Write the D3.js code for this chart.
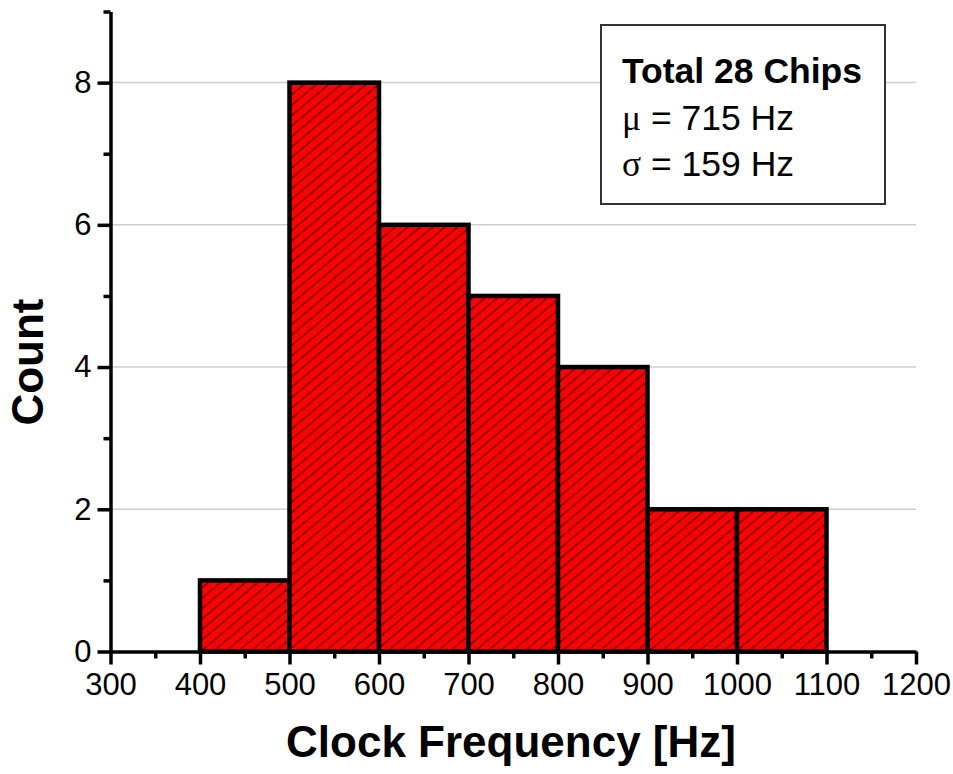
<!DOCTYPE html>
<html>
<head>
<meta charset="utf-8">
<script src="https://cdn.jsdelivr.net/npm/d3@7"></script>
<style>
  html, body { margin: 0; padding: 0; background: #fff; }
  svg { display: block; font-family: "Liberation Sans", Arial, sans-serif; }
</style>
</head>
<body>
<svg id="chart" width="953" height="774"></svg>
<script>
// Histogram of measured clock frequencies
const binStarts = [400, 500, 600, 700, 800, 900, 1000];
const binWidth = 100;
const counts = [1, 8, 6, 5, 4, 2, 2];

const xMajorTicks = [300, 400, 500, 600, 700, 800, 900, 1000, 1100, 1200];
const xMinorTicks = [350, 450, 550, 650, 750, 850, 950, 1050, 1150];
const yMajorTicks = [0, 2, 4, 6, 8];
const yMinorTicks = [1, 3, 5, 7, 9];
const gridValues = [2, 4, 6, 8];

const statLines = [
  { sym: null, text: "Total 28 Chips", bold: true },
  { sym: "μ", text: " = 715 Hz", bold: false },
  { sym: "σ", text: " = 159 Hz", bold: false }
];

const xTitle = "Clock Frequency [Hz]";
const yTitle = "Count";

const svg = d3.select("#chart");

const x = d3.scaleLinear().domain([300, 1200]).range([110.5, 916]);
const y = d3.scaleLinear().domain([0, 9]).range([651.5, 11.5]);

// Diagonal hatch fill for the bars
const defs = svg.append("defs");
const pat = defs.append("pattern")
  .attr("id", "hatch")
  .attr("patternUnits", "userSpaceOnUse")
  .attr("width", 20)
  .attr("height", 8)
  .attr("patternTransform", "rotate(-40)");
pat.append("rect").attr("width", 20).attr("height", 8).attr("fill", "#ff0000");
pat.append("line")
  .attr("x1", 0).attr("x2", 20)
  .attr("y1", 4).attr("y2", 4)
  .attr("stroke", "#000").attr("stroke-width", 1.1)
  .attr("stroke-dasharray", "1.5,0.5");

// Horizontal grid lines
svg.append("g").selectAll("line")
  .data(gridValues)
  .join("line")
  .attr("x1", x(300)).attr("x2", x(1200))
  .attr("y1", d => y(d)).attr("y2", d => y(d))
  .attr("stroke", "#cfcfcf")
  .attr("stroke-width", 1.5);

// Bars
svg.append("g").selectAll("rect")
  .data(binStarts.map((s, i) => ({ s, c: counts[i] })))
  .join("rect")
  .attr("x", d => x(d.s))
  .attr("y", d => y(d.c))
  .attr("width", d => x(d.s + binWidth) - x(d.s))
  .attr("height", d => y(0) - y(d.c))
  .attr("fill", "url(#hatch)")
  .attr("stroke", "#000")
  .attr("stroke-width", 4.5)
  .attr("stroke-linejoin", "miter");

// Axes
function styleAxis(g) {
  g.selectAll("path.domain").attr("stroke", "#000").attr("stroke-width", 3.5);
  g.selectAll(".tick line").attr("stroke", "#000").attr("stroke-width", 3.5);
  g.selectAll(".tick text")
    .attr("fill", "#000")
    .style("font-family", "'Liberation Sans', Arial, sans-serif")
    .style("font-size", "31px");
}

const xAxis = svg.append("g")
  .attr("transform", `translate(0,${y(0)})`)
  .call(d3.axisBottom(x).tickValues(xMajorTicks).tickSize(13).tickSizeOuter(0).tickPadding(8).tickFormat(d3.format("d")));
styleAxis(xAxis);
xAxis.selectAll(".tick text").attr("dy", "0.71em");

svg.append("g")
  .attr("transform", `translate(0,${y(0)})`)
  .call(d3.axisBottom(x).tickValues(xMinorTicks).tickSize(7).tickSizeOuter(0).tickFormat(""))
  .call(g => g.select("path.domain").remove())
  .call(styleAxis);

const yAxis = svg.append("g")
  .attr("transform", `translate(${x(300)},0)`)
  .call(d3.axisLeft(y).tickValues(yMajorTicks).tickSize(13).tickSizeOuter(0).tickPadding(6).tickFormat(d3.format("d")));
styleAxis(yAxis);

svg.append("g")
  .attr("transform", `translate(${x(300)},0)`)
  .call(d3.axisLeft(y).tickValues(yMinorTicks).tickSize(7).tickSizeOuter(0).tickFormat(""))
  .call(g => g.select("path.domain").remove())
  .call(styleAxis);

// Axis titles
svg.append("text")
  .attr("x", 511).attr("y", 757)
  .attr("text-anchor", "middle")
  .style("font-size", "44px").style("font-weight", "bold")
  .text(xTitle);

svg.append("text")
  .attr("transform", "translate(43,362) rotate(-90)")
  .attr("text-anchor", "middle")
  .style("font-size", "44px").style("font-weight", "bold")
  .text(yTitle);

// Summary box
const box = svg.append("g");
box.append("rect")
  .attr("x", 601).attr("y", 25)
  .attr("width", 284).attr("height", 179)
  .attr("fill", "#fff")
  .attr("stroke", "#333")
  .attr("stroke-width", 2);

const baselines = [83, 130, 176];
statLines.forEach((ln, i) => {
  const t = box.append("text")
    .attr("x", 622).attr("y", baselines[i])
    .style("font-size", "35.5px")
    .style("font-weight", ln.bold ? "bold" : "normal");
  if (ln.sym) {
    t.append("tspan")
      .style("font-family", "'Liberation Serif', 'Times New Roman', serif")
      .text(ln.sym);
  }
  t.append("tspan").text(ln.text);
});
</script>
</body>
</html>
